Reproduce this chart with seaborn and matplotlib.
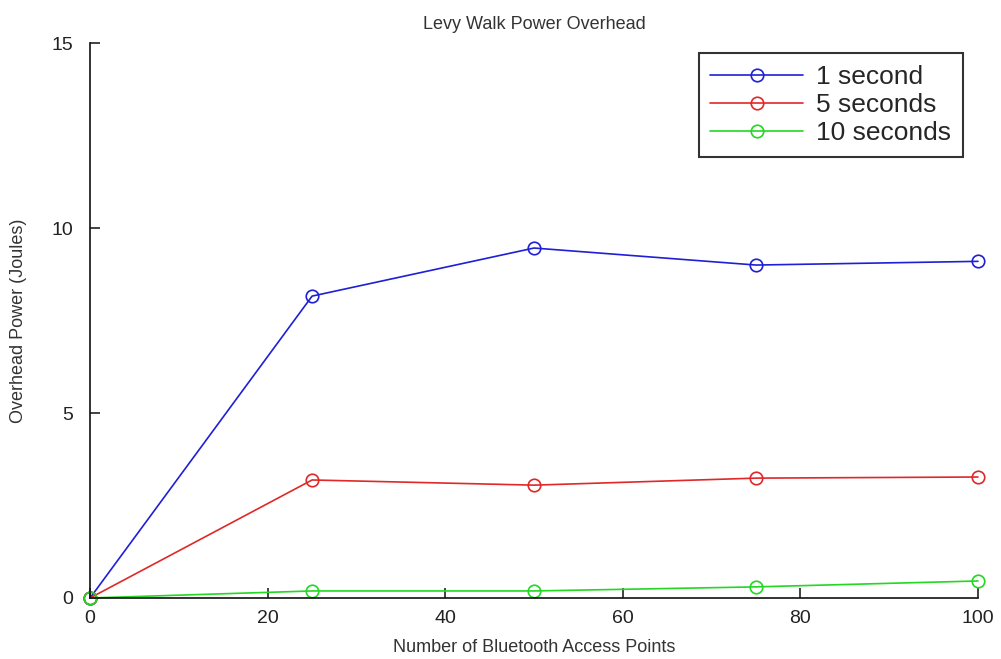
import pandas as pd
import numpy as np
import matplotlib.pyplot as plt
import seaborn as sns

# --- Data ---
access_points = [0, 25, 50, 75, 100]
power_1s = [0.0, 8.16, 9.46, 9.0, 9.1]
power_5s = [0.0, 3.19, 3.05, 3.24, 3.27]
power_10s = [0.0, 0.19, 0.19, 0.30, 0.46]
series_names = ['1 second', '5 seconds', '10 seconds']
series_colors = ['#1f1fd6', '#e02828', '#22d822']

df = pd.DataFrame({
    'ap': access_points * 3,
    'power': power_1s + power_5s + power_10s,
    'interval': [n for n in series_names for _ in access_points],
})

sns.set_style('white')
plt.rcParams['font.family'] = ['Liberation Sans', 'DejaVu Sans']

fig = plt.figure(figsize=(10.01, 6.59), dpi=100)
ax = fig.add_axes([0.09, 0.0926, 0.887, 0.842])

sns.lineplot(data=df, x='ap', y='power', hue='interval', hue_order=series_names,
             palette=series_colors, marker='o', markersize=9, markerfacecolor='none',
             markeredgewidth=1.2, linewidth=1.2, ax=ax)
for line, c in zip(ax.lines, series_colors):
    line.set_markeredgecolor(c)
    line.set_clip_on(False)

ax.set_xlim(0, 100)
ax.set_ylim(0, 15)
ax.set_xticks([0, 20, 40, 60, 80, 100])
ax.set_yticks([0, 5, 10, 15])
ax.tick_params(direction='in', length=7, width=1.2, labelsize=14, colors='#222222',
               left=True, bottom=True)
ax.tick_params(axis='x', pad=9)
ax.tick_params(axis='y', pad=12)
sns.despine(ax=ax)
for s in ['left', 'bottom']:
    ax.spines[s].set_color('#111111')
    ax.spines[s].set_linewidth(1.2)

ax.set_title('Levy Walk Power Overhead', fontsize=13, color='#333333', pad=10)
ax.set_xlabel('Number of Bluetooth Access Points', fontsize=13, color='#333333', labelpad=8)
ax.set_ylabel('Overhead Power (Joules)', fontsize=13, color='#333333', labelpad=18)

leg = ax.legend(loc='upper right', bbox_to_anchor=(0.983, 0.982), borderaxespad=0,
                fontsize=19, frameon=True, fancybox=False, edgecolor='black',
                handlelength=3.5, borderpad=0.45, labelspacing=0.15, handletextpad=0.5)
leg.get_frame().set_linewidth(1.5)
for h, c in zip(leg.legend_handles, series_colors):
    h.set_markerfacecolor('none')
    h.set_markeredgecolor(c)

fig.savefig('out.png', dpi=100)
